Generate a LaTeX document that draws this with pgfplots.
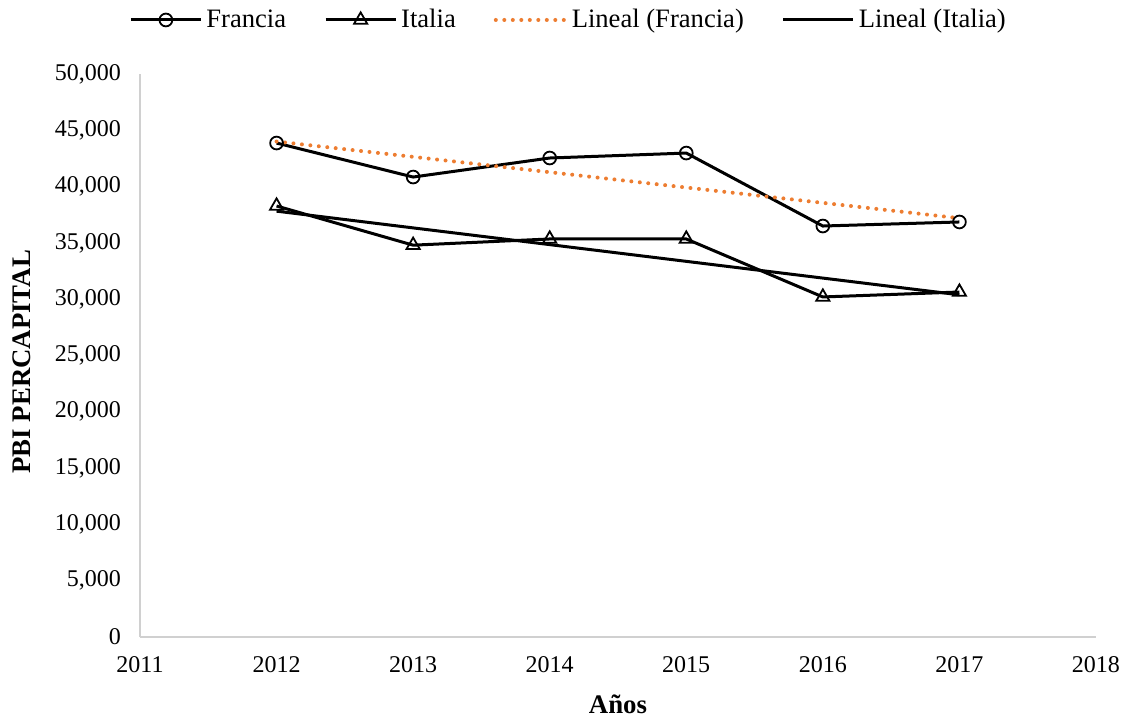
\documentclass[border=0pt]{standalone}
\usepackage{fontspec}
\setmainfont{Liberation Serif}
\usepackage{pgfplots}
\pgfplotsset{compat=1.18}
\definecolor{trendorange}{HTML}{ED7D31}
\definecolor{axgray}{HTML}{D0D0D0}
\begin{document}
\begin{tikzpicture}
\useasboundingbox (-70pt,-41pt) rectangle (497pt,318.5pt);
\begin{axis}[
  scale only axis,
  width=478pt, height=281.5pt,
  at={(0,0)}, anchor=south west,
  xmin=2011, xmax=2018, ymin=0, ymax=50000,
  xtick={2011,...,2018},
  ytick={0,5000,...,50000},
  scaled y ticks=false,
  axis x line=bottom, axis y line=left,
  axis line style={-, draw=axgray, line width=0.8pt},
  major tick length=0pt,
  tick label style={font=\fontsize{12}{14}\selectfont, black},
  /pgf/number format/.cd, 1000 sep={,}, assume math mode=true,
  /pgfplots/.cd,
  xticklabel={\pgfmathprintnumber[1000 sep={}]{\tick}},
  xticklabel style={yshift=-6pt},
  yticklabel style={xshift=-6pt},
  xlabel={\textbf{Años}},
  ylabel={\textbf{PBI PERCAPITAL}},
  label style={font=\fontsize{13.4}{15}\selectfont},
  xlabel style={at={(axis description cs:0.5,0)}, anchor=center, yshift=-33.5pt},
  ylabel style={at={(axis description cs:0,0.489)}, anchor=center, yshift=59pt},
  legend columns=4,
  legend style={at={(axis description cs:0,1.096)}, anchor=west, xshift=-5.5pt, draw=none, inner sep=0pt,
    font=\fontsize{13.3}{15}\selectfont, /tikz/every even column/.append style={column sep=17pt}},
  legend image code/.code={\draw[#1] (0pt,0pt) -- (35pt,0pt); \draw[#1, only marks] plot coordinates {(17.5pt,0pt)};},
]
\addplot[black, line width=1.5pt, mark=o, mark size=3.2pt, mark options={line width=0.9pt, fill=white}]
  coordinates {(2012,43870) (2013,40850) (2014,42540) (2015,42980) (2016,36500) (2017,36860)};
\addlegendentry{Francia}
\addplot[black, line width=1.5pt, mark=triangle, mark size=3.8pt, mark options={line width=0.9pt, fill=white}]
  coordinates {(2012,38280) (2013,34800) (2014,35350) (2015,35350) (2016,30200) (2017,30640)};
\addlegendentry{Italia}
\addplot[trendorange, line width=2pt, line cap=round, dash pattern=on 0pt off 4.25pt]
  coordinates {(2012,44005) (2017,37195)};
\addlegendentry{Lineal (Francia)}
\addplot[black, line width=1.5pt]
  coordinates {(2012,37820) (2017,30390)};
\addlegendentry{Lineal (Italia)}
\end{axis}
\end{tikzpicture}
\end{document}
